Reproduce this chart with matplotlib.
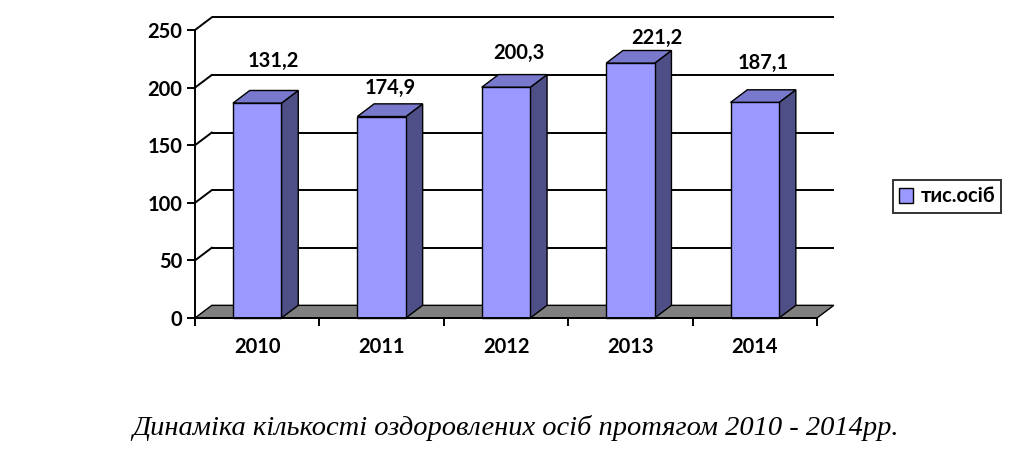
import matplotlib.pyplot as plt
from matplotlib.patches import Polygon, Rectangle, Patch

years = ['2010', '2011', '2012', '2013', '2014']
bar_values = [186.5, 174.9, 200.3, 221.2, 187.1]
label_texts = ['131,2', '174,9', '200,3', '221,2', '187,1']
yticks = [0, 50, 100, 150, 200, 250]
series_name = 'тис.осіб'
caption = 'Динаміка кількості оздоровлених осіб протягом 2010 - 2014рр.'

# where the value labels sit (layout)
label_dx = [0.13, 0.07, 0.10, 0.21, 0.07]
label_y = [223, 200, 230, 243, 221]

front_c = '#9999ff'
side_c = '#4f4f87'
top_c = '#7878cc'
floor_c = '#808080'

W, H = 1024, 466
fig = plt.figure(figsize=(W / 100, H / 100), dpi=100)
ax = fig.add_axes([195 / W, (H - 318) / H, 622 / W, 288 / H])
ax.set_xlim(-0.5, 4.5)
ax.set_ylim(0, 250)

bold = ['Lato', 'Noto Sans', 'DejaVu Sans']
fs = 14.5

# depth of the fake 3d
dx = 0.135
dy = 11.0
bw = 0.39

# floor
ax.add_patch(Polygon([(-0.5, 0), (4.5, 0), (4.5 + dx, dy), (-0.5 + dx, dy)],
                     closed=True, facecolor=floor_c, edgecolor='black',
                     lw=1.0, clip_on=False, zorder=1))

# back wall grid + side wall diagonals
for v in yticks[1:]:
    ax.plot([-0.5 + dx, 4.5 + dx], [v + dy, v + dy], color='black', lw=1.4,
            clip_on=False, zorder=1, solid_capstyle='butt')
    ax.plot([-0.5, -0.5 + dx], [v, v + dy], color='black', lw=1.4,
            clip_on=False, zorder=1)

# bars
for i, h in enumerate(bar_values):
    x0 = i - bw / 2
    x1 = i + bw / 2
    ax.add_patch(Polygon([(x1, 0), (x1 + dx, dy), (x1 + dx, h + dy), (x1, h)],
                         closed=True, facecolor=side_c, edgecolor='black',
                         lw=1.0, clip_on=False, zorder=3))
    ax.add_patch(Polygon([(x0, h), (x1, h), (x1 + dx, h + dy), (x0 + dx, h + dy)],
                         closed=True, facecolor=top_c, edgecolor='black',
                         lw=1.0, clip_on=False, zorder=3))
    ax.add_patch(Rectangle((x0, 0), bw, h, facecolor=front_c,
                           edgecolor='black', lw=1.0, clip_on=False, zorder=4))
    ax.text(i + label_dx[i], label_y[i], label_texts[i], ha='center',
            va='center', fontsize=fs, fontweight='bold', family=bold,
            zorder=5)

# axes look
for s in ['top', 'right']:
    ax.spines[s].set_visible(False)
ax.spines['left'].set_linewidth(1.4)
ax.spines['bottom'].set_linewidth(1.4)
ax.spines['left'].set_zorder(6)
ax.spines['bottom'].set_zorder(6)
ax.patch.set_visible(False)

ax.set_yticks(yticks)
ax.set_yticklabels([str(t) for t in yticks], fontsize=fs, fontweight='bold',
                   family=bold)
ax.tick_params(axis='y', direction='out', length=6, width=1.4, pad=3)

ax.set_xticks([-0.5 + k for k in range(6)])
ax.set_xticklabels([])
ax.tick_params(axis='x', which='major', direction='out', length=6, width=1.4)
ax.set_xticks(range(len(years)), minor=True)
ax.set_xticklabels(years, minor=True, fontsize=fs, fontweight='bold',
                   family=bold)
ax.tick_params(axis='x', which='minor', length=0, pad=13.5)

leg = fig.legend(handles=[Patch(facecolor=front_c, edgecolor='black',
                                label=series_name)],
                 loc='center', bbox_to_anchor=(947 / W, 1 - 196.5 / H),
                 fancybox=False, frameon=True, handlelength=0.7,
                 handleheight=0.7, handletextpad=0.4, borderpad=0.3,
                 borderaxespad=0,
                 prop={'family': bold, 'weight': 'bold', 'size': fs})
leg.get_frame().set_edgecolor('black')
leg.get_frame().set_linewidth(1.4)

fig.text(515 / W, 1 - 428 / H, caption, ha='center', va='center',
         fontsize=20.5, style='italic', family=['Liberation Serif', 'DejaVu Serif'])

fig.savefig('out.png', dpi=100)
